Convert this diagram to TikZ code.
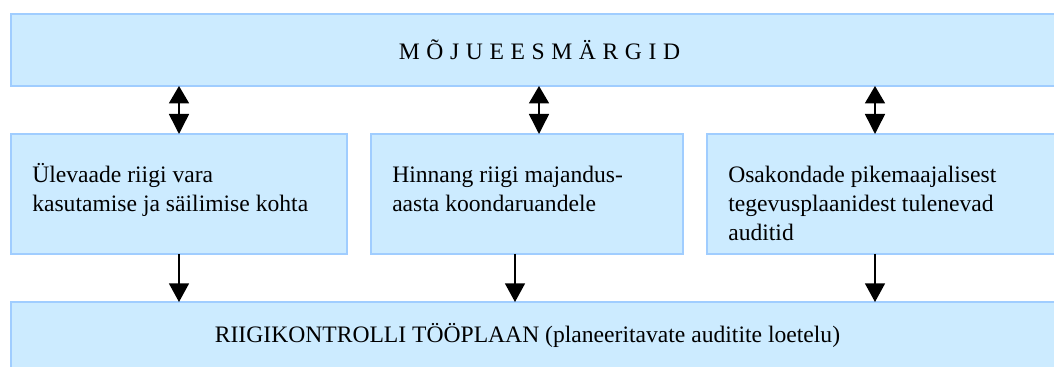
\documentclass[tikz,border=0pt]{standalone}
\usepackage{fontspec}
\setmainfont{Liberation Serif}
\usetikzlibrary{arrows.meta}
\definecolor{boxfill}{RGB}{204,235,255}
\definecolor{boxline}{RGB}{160,205,255}
\tikzset{
  box/.style={draw=boxline, fill=boxfill, line width=1.5pt, inner sep=0pt, outer sep=0pt, anchor=north west},
  txt/.style={anchor=base west, align=left, inner sep=0pt, font=\fontsize{17.7}{22.1}\selectfont},
  link/.style={line width=1.1pt, -{Triangle[width=15pt,length=14pt]}},
  dbl/.style={line width=1.1pt, {Triangle[width=15pt,length=13pt]}-{Triangle[width=15pt,length=15pt]}}
}
\begin{document}
\begin{tikzpicture}[x=0.75pt, y=-0.75pt]
        \useasboundingbox (0,0) rectangle (1054,367);
        \clip (0,0) rectangle (1054,367);

        %boxes
        \node[box, minimum width=794.25pt, minimum height=54pt] (goals) at (11,14) {};
        \node[box, minimum width=252pt, minimum height=90pt] (vara) at (11,134) {};
        \node[box, minimum width=234pt, minimum height=90pt] (hinnang) at (371,134) {};
        \node[box, minimum width=272.25pt, minimum height=90pt] (osak) at (707,134) {};
        \node[box, minimum width=794.25pt, minimum height=66pt] (plaan) at (11,302) {};

        %texts (base = last line)
        \node[txt, anchor=center] (goalstxt) at (539.5,50) {\addfontfeature{LetterSpace=28}MÕJUEESMÄRGID};
        \node[txt] (varatxt) at (32,211.5) {Ülevaade riigi vara\\kasutamise ja säilimise kohta};
        \node[txt] (hinnangtxt) at (392,211.5) {Hinnang riigi majandus-\\aasta koondaruandele};
        \node[txt] (osaktxt) at (728,241) {Osakondade pikemaajalisest\\tegevusplaanidest tulenevad\\auditid};
        \node[txt, anchor=base] (plaantxt) at (527.5,342) {RIIGIKONTROLLI TÖÖPLAAN (planeeritavate auditite loetelu)};

        %arrows
        \draw[dbl] (goals.south -| 179,0) -- (vara.north -| 179,0);
        \draw[dbl] (goals.south -| 539,0) -- (hinnang.north -| 539,0);
        \draw[dbl] (goals.south -| 875,0) -- (osak.north -| 875,0);
        \draw[link] (vara.south -| 179,0) -- (plaan.north -| 179,0);
        \draw[link] (hinnang.south -| 515,0) -- (plaan.north -| 515,0);
        \draw[link] (osak.south -| 875,0) -- (plaan.north -| 875,0);
    \end{tikzpicture}
\end{document}
